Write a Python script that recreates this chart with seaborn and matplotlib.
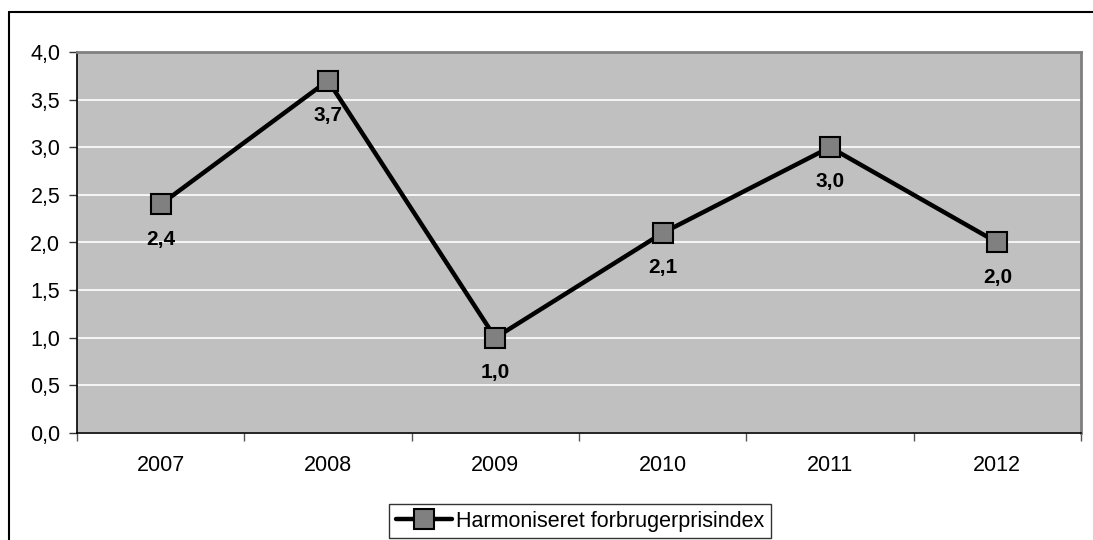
import pandas as pd
import matplotlib
matplotlib.use("Agg")
import matplotlib.pyplot as plt
import seaborn as sns
from matplotlib.lines import Line2D

# Data
years = ["2007", "2008", "2009", "2010", "2011", "2012"]
hicp = [2.4, 3.7, 1.0, 2.1, 3.0, 2.0]
series_name = "Harmoniseret forbrugerprisindex"

df = pd.DataFrame({"year": years, "value": hicp})
df["pos"] = range(len(df))

sns.set_style("white")
plt.rcParams["font.family"] = ["Liberation Sans", "DejaVu Sans"]
plt.rcParams["text.color"] = "black"
plt.rcParams["xtick.color"] = "black"
plt.rcParams["ytick.color"] = "black"

fig = plt.figure(figsize=(10.93, 5.40), dpi=100)
ax = fig.add_axes([77 / 1093, 107 / 540, 1004 / 1093, 381 / 540])
ax.set_facecolor("#c0c0c0")

sns.lineplot(data=df, x="pos", y="value", ax=ax, color="black", linewidth=3.2,
             marker="s", markersize=14, markerfacecolor="#808080",
             markeredgecolor="black", markeredgewidth=1.5, label=series_name,
             zorder=3)

# data labels
for p, v in zip(df["pos"], df["value"]):
    ax.annotate(f"{v:.1f}".replace(".", ","), (p, v), xytext=(0, -25),
                textcoords="offset points", ha="center", va="center",
                fontsize=15, fontweight="bold", color="black", zorder=4)

ax.set_xlim(-0.5, len(years) - 0.5)
ax.set_ylim(0, 4)
yt = [i * 0.5 for i in range(9)]
ax.set_yticks(yt)
ax.set_yticklabels([f"{t:.1f}".replace(".", ",") for t in yt], fontsize=15.5)
ax.set_xticks(df["pos"])
ax.set_xticklabels(years, fontsize=15.5)
ax.set_xticks([i - 0.5 for i in range(len(years) + 1)], minor=True)
ax.tick_params(axis="x", which="major", length=0, pad=16)
ax.tick_params(axis="x", which="minor", length=6, width=1, color="#555555",
               direction="out", bottom=True)
ax.tick_params(axis="y", length=6, width=1, color="#333333", direction="out",
               left=True, pad=6)
ax.set_xlabel("")
ax.set_ylabel("")

ax.yaxis.grid(True, color="white", linewidth=1.2)
ax.set_axisbelow(True)
for side in ["left", "bottom"]:
    ax.spines[side].set_color("black")
    ax.spines[side].set_linewidth(1.2)
for side in ["top", "right"]:
    ax.spines[side].set_visible(True)
    ax.spines[side].set_color("#808080")
    ax.spines[side].set_linewidth(2)

leg = ax.legend(loc="lower center", fontsize=15.5,
                frameon=True, fancybox=False, edgecolor="black",
                handlelength=2.6, borderpad=0.3, handletextpad=0.2,
                borderaxespad=0)
leg.get_frame().set_linewidth(1)
leg.set_bbox_to_anchor((580 / 1093, 2 / 540), transform=fig.transFigure)

# outer chart frame (open at the bottom/right like the reference crop)
fig.add_artist(Line2D([9 / 1093, 9 / 1093], [0, 1 - 12 / 540], color="black",
                      linewidth=1.5, transform=fig.transFigure))
fig.add_artist(Line2D([9 / 1093, 1], [1 - 12 / 540, 1 - 12 / 540], color="black",
                      linewidth=1.5, transform=fig.transFigure))

fig.savefig("out.png", dpi=100)
